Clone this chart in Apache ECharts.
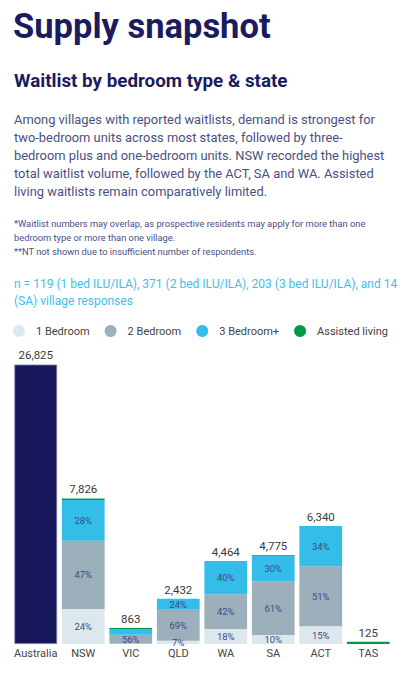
<!DOCTYPE html>
<html>
<head>
<meta charset="utf-8">
<script src="https://cdn.jsdelivr.net/npm/echarts@6/dist/echarts.min.js"></script>
<style>
html,body{margin:0;padding:0;background:#fff;}
#chart{width:403px;height:673px;}
</style>
</head>
<body>
<div id="chart"></div>
<script>
// ---- data ----
const categories = ['Australia', 'NSW', 'VIC', 'QLD', 'WA', 'SA', 'ACT', 'TAS'];
const totals = [26825, 7826, 863, 2432, 4464, 4775, 6340, 125];
const australia = [26825, '-', '-', '-', '-', '-', '-', '-'];
const oneBed = ['-', 1878, 15, 170, 804, 478, 951, 0];
const twoBed = ['-', 3678, 483, 1678, 1875, 2880, 3233, 0];
const threeBed = ['-', 2191, 310, 584, 1785, 1370, 2156, 0];
const assisted = ['-', 79, 55, 0, 0, 47, 0, 125];
const oneBedPct = ['', '24%', '', '7%', '18%', '10%', '15%', ''];
const twoBedPct = ['', '47%', '56%', '69%', '42%', '61%', '51%', ''];
const threeBedPct = ['', '28%', '', '24%', '40%', '30%', '34%', ''];
const seriesNames = ['1 Bedroom', '2 Bedroom', '3 Bedroom+', 'Assisted living'];

const FONT = 'Roboto, "Noto Sans", sans-serif';
const C1 = '#dde8ee', C2 = '#9bb0bb', C3 = '#34bde8', C4 = '#009a44', NAVY = '#17175c';
const TXT = '#4b5082';

const chart = echarts.init(document.getElementById('chart'), null, {renderer: 'svg'});

function pctLabel(arr) {
  return {
    show: true, position: 'inside', color: '#3d4a88', fontSize: 9.5, fontFamily: FONT,
    formatter: p => arr[p.dataIndex] || ''
  };
}
const fmt = v => v.toLocaleString('en-US');

const option = {
  backgroundColor: '#fff',
  animation: false,
  graphic: [
    {type: 'text', left: 13, top: 8, style: {text: 'Supply snapshot', font: 'bold 34.5px ' + FONT, fill: '#1b1b5f'}},
    {type: 'text', left: 14, top: 71, style: {text: 'Waitlist by bedroom type & state', font: 'bold 18.8px ' + FONT, fill: '#1b1b5f'}},
    {type: 'text', left: 14, top: 111, style: {
      text: 'Among villages with reported waitlists, demand is strongest for\ntwo-bedroom units across most states, followed by three-\nbedroom plus and one-bedroom units. NSW recorded the highest\ntotal waitlist volume, followed by the ACT, SA and WA. Assisted\nliving waitlists remain comparatively limited.',
      font: '12.9px ' + FONT, fill: TXT, lineHeight: 17.8}},
    {type: 'text', left: 14, top: 217, style: {
      text: '*Waitlist numbers may overlap, as prospective residents may apply for more than one\nbedroom type or more than one village.\n**NT not shown due to insufficient number of respondents.',
      font: '9.3px ' + FONT, fill: TXT, lineHeight: 13.6}},
    {type: 'text', left: 14, top: 275, style: {
      text: 'n = 119 (1 bed ILU/ILA), 371 (2 bed ILU/ILA), 203 (3 bed ILU/ILA), and 14\n(SA) village responses',
      font: '12px ' + FONT, fill: '#3fc0ea', lineHeight: 17.5}}
  ],
  legend: {
    data: seriesNames,
    left: 13, top: 325, width: 390, padding: 0,
    icon: 'circle', itemWidth: 12, itemHeight: 12, itemGap: 15,
    textStyle: {color: '#444', fontSize: 11, fontFamily: FONT, padding: [0, 0, 0, 6]}
  },
  grid: {left: 12, right: 11, top: 365, bottom: 29, containLabel: false},
  xAxis: {
    type: 'category', data: categories,
    axisLine: {show: false}, axisTick: {show: false},
    axisLabel: {color: '#444', fontSize: 11, fontFamily: FONT, margin: 4, interval: 0}
  },
  yAxis: {type: 'value', min: 0, max: 15000, show: false, splitLine: {show: false}},
  series: [
    {name: 'Australia', type: 'bar', stack: 's', data: australia, barWidth: '90%', clip: true,
      itemStyle: {color: NAVY, borderColor: '#7b80ab', borderWidth: 0.8},
      label: {show: true, position: 'top', distance: 4, color: '#3a3a3a', fontSize: 11.5, fontFamily: FONT,
        formatter: p => fmt(totals[p.dataIndex])}},
    {name: '1 Bedroom', type: 'bar', stack: 's', data: oneBed, itemStyle: {color: C1}, label: pctLabel(oneBedPct)},
    {name: '2 Bedroom', type: 'bar', stack: 's', data: twoBed, itemStyle: {color: C2}, label: pctLabel(twoBedPct)},
    {name: '3 Bedroom+', type: 'bar', stack: 's', data: threeBed, itemStyle: {color: C3}, label: pctLabel(threeBedPct)},
    {name: 'Assisted living', type: 'bar', stack: 's', data: assisted, itemStyle: {color: C4}},
    {name: 'Total', type: 'bar', stack: 's', data: totals.map((t, i) => i === 0 ? '-' : 0),
      itemStyle: {color: 'rgba(0,0,0,0)'},
      label: {show: true, position: 'top', distance: 3, color: '#3a3a3a', fontSize: 11.5, fontFamily: FONT,
        formatter: p => fmt(totals[p.dataIndex])}}
  ]
};
chart.setOption(option);
</script>
</body>
</html>
